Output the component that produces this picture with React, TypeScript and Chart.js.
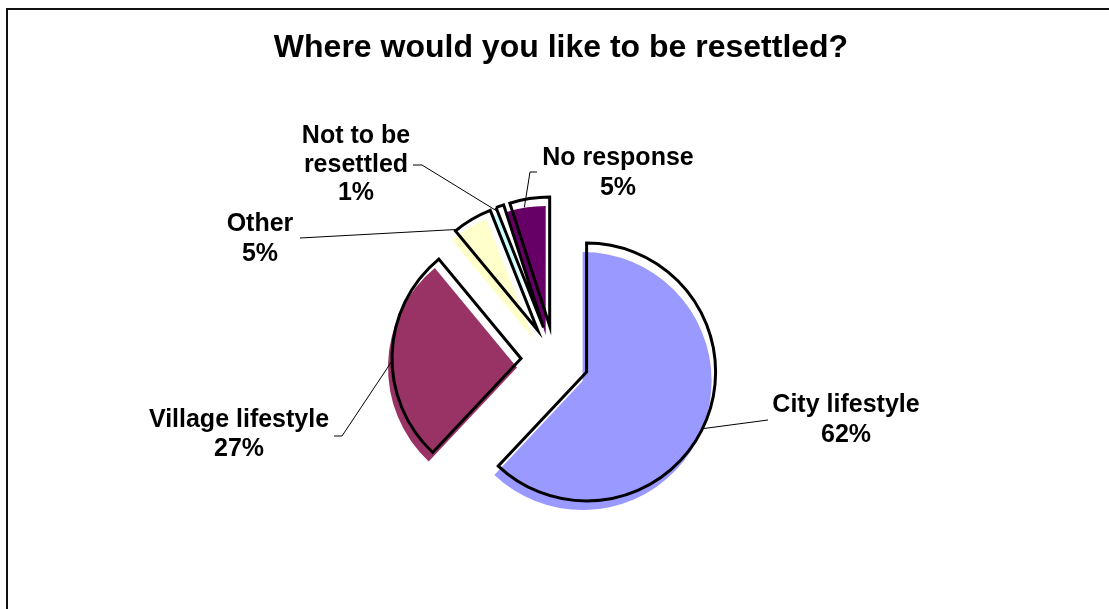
import React, { useEffect, useRef } from "react";
import { Chart, registerables } from "chart.js";

Chart.register(...registerables);

// ---- data ----
const TITLE = "Where would you like to be resettled?";
const categories = ["City lifestyle", "Village lifestyle", "Other", "Not to be resettled", "No response"];
const values = [62, 27, 5, 1, 5];
// how each category name is broken into lines in its label
const categoryLines = [["City lifestyle"], ["Village lifestyle"], ["Other"], ["Not to be", "resettled"], ["No response"]];
const sliceColors = ["#9999FF", "#993366", "#FFFFCC", "#CCFFFF", "#660066"];

// ---- styles / layout ----
const W = 1109;
const H = 609;
const RADIUS = 129;
const EXPLODE = 34;
const SHADOW_X = -4;
const SHADOW_Y = 9;
const FONT = "'Liberation Sans', Arial, Helvetica, sans-serif";

// label placement: text centre x, first baseline, line height, leader points on text side,
// and where the leader touches the slice (fraction along the arc, fraction of radius)
const labelLayout = [
  { x: 846, y: 412, lh: 30, lead: [[768, 420]], frac: 0.52, rf: 1.0 },
  { x: 239, y: 427, lh: 29, lead: [[334, 436], [342, 436]], frac: 0.47, rf: 1.0 },
  { x: 260, y: 231, lh: 30, lead: [[300, 238]], frac: 0.1, rf: 0.99 },
  { x: 356, y: 143, lh: 28.5, lead: [[413, 165], [422, 165]], frac: 0.1, rf: 0.96 },
  { x: 618, y: 165, lh: 30, lead: [[537, 172], [530, 172]], frac: 0.33, rf: 0.94 },
];

const excelPie = {
  id: "excelPie",
  beforeDraw(chart: any) {
    const ctx = chart.ctx;
    ctx.save();
    ctx.fillStyle = "#ffffff";
    ctx.fillRect(0, 0, W, H);
    ctx.strokeStyle = "#111";
    ctx.lineWidth = 2;
    ctx.beginPath();
    ctx.moveTo(7, H);
    ctx.lineTo(7, 9);
    ctx.lineTo(W, 9);
    ctx.stroke();
    ctx.restore();
  },
  afterDatasetsDraw(chart: any) {
    const ctx = chart.ctx;
    const meta = chart.getDatasetMeta(0);
    const arcs = meta.data;

    const drawWith = (arc: any, opts: any, dx: number, dy: number) => {
      const orig = arc.options;
      arc.options = Object.assign({}, orig, opts, { offset: 0, spacing: 0 });
      ctx.save();
      ctx.translate(dx, dy);
      arc.draw(ctx);
      ctx.restore();
      arc.options = orig;
    };
    const explodeVec = (arc: any) => {
      const mid = (arc.startAngle + arc.endAngle) / 2;
      return [Math.cos(mid) * EXPLODE, Math.sin(mid) * EXPLODE];
    };

    // shifted colour fills
    arcs.forEach((arc: any, i: number) => {
      const [ex, ey] = explodeVec(arc);
      drawWith(arc, { backgroundColor: sliceColors[i], borderWidth: 0 }, ex + SHADOW_X, ey + SHADOW_Y);
    });
    // black outlines
    arcs.forEach((arc: any) => {
      const [ex, ey] = explodeVec(arc);
      drawWith(
        arc,
        { backgroundColor: "rgba(0,0,0,0)", borderWidth: 3, borderColor: "#000", borderJoinStyle: "miter", borderAlign: "center" },
        ex,
        ey
      );
    });

    // title
    ctx.save();
    ctx.fillStyle = "#000";
    ctx.textAlign = "center";
    ctx.textBaseline = "alphabetic";
    ctx.font = `bold 32px ${FONT}`;
    ctx.fillText(TITLE, 561, 57);

    // labels + leader lines
    const total = values.reduce((a, b) => a + b, 0);
    arcs.forEach((arc: any, i: number) => {
      const L = labelLayout[i];
      const [ex, ey] = explodeVec(arc);
      const ang = arc.startAngle + (arc.endAngle - arc.startAngle) * L.frac;
      const r = arc.outerRadius * L.rf;
      const ax = arc.x + ex + Math.cos(ang) * r;
      const ay = arc.y + ey + Math.sin(ang) * r;
      ctx.strokeStyle = "#000";
      ctx.lineWidth = 1;
      ctx.beginPath();
      ctx.moveTo(L.lead[0][0], L.lead[0][1]);
      for (let k = 1; k < L.lead.length; k++) ctx.lineTo(L.lead[k][0], L.lead[k][1]);
      ctx.lineTo(ax, ay);
      ctx.stroke();

      const pct = Math.round((values[i] / total) * 100) + "%";
      const lines = [...categoryLines[i], pct];
      ctx.font = `bold 25px ${FONT}`;
      lines.forEach((t, k) => ctx.fillText(t, L.x, L.y + k * L.lh));
    });
    ctx.restore();
  },
};

export default function App() {
  const ref = useRef<HTMLCanvasElement | null>(null);
  useEffect(() => {
    if (!ref.current) return;
    const chart = new Chart(ref.current, {
      type: "pie",
      data: {
        labels: categories,
        datasets: [
          {
            data: values,
            backgroundColor: "rgba(0,0,0,0)",
            borderWidth: 0,
            hoverOffset: 0,
          },
        ],
      },
      options: {
        responsive: false,
        animation: false,
        events: [],
        radius: RADIUS,
        layout: { padding: { left: 100, right: 99, top: 110, bottom: 0 } },
        plugins: {
          legend: { display: false },
          tooltip: { enabled: false },
          title: { display: false },
        },
      } as any,
      plugins: [excelPie],
    });
    return () => chart.destroy();
  }, []);
  return (
    <div style={{ position: "absolute", left: 0, top: 0, width: W, height: H }}>
      <canvas ref={ref} width={W} height={H} style={{ display: "block", width: W, height: H }} />
    </div>
  );
}
